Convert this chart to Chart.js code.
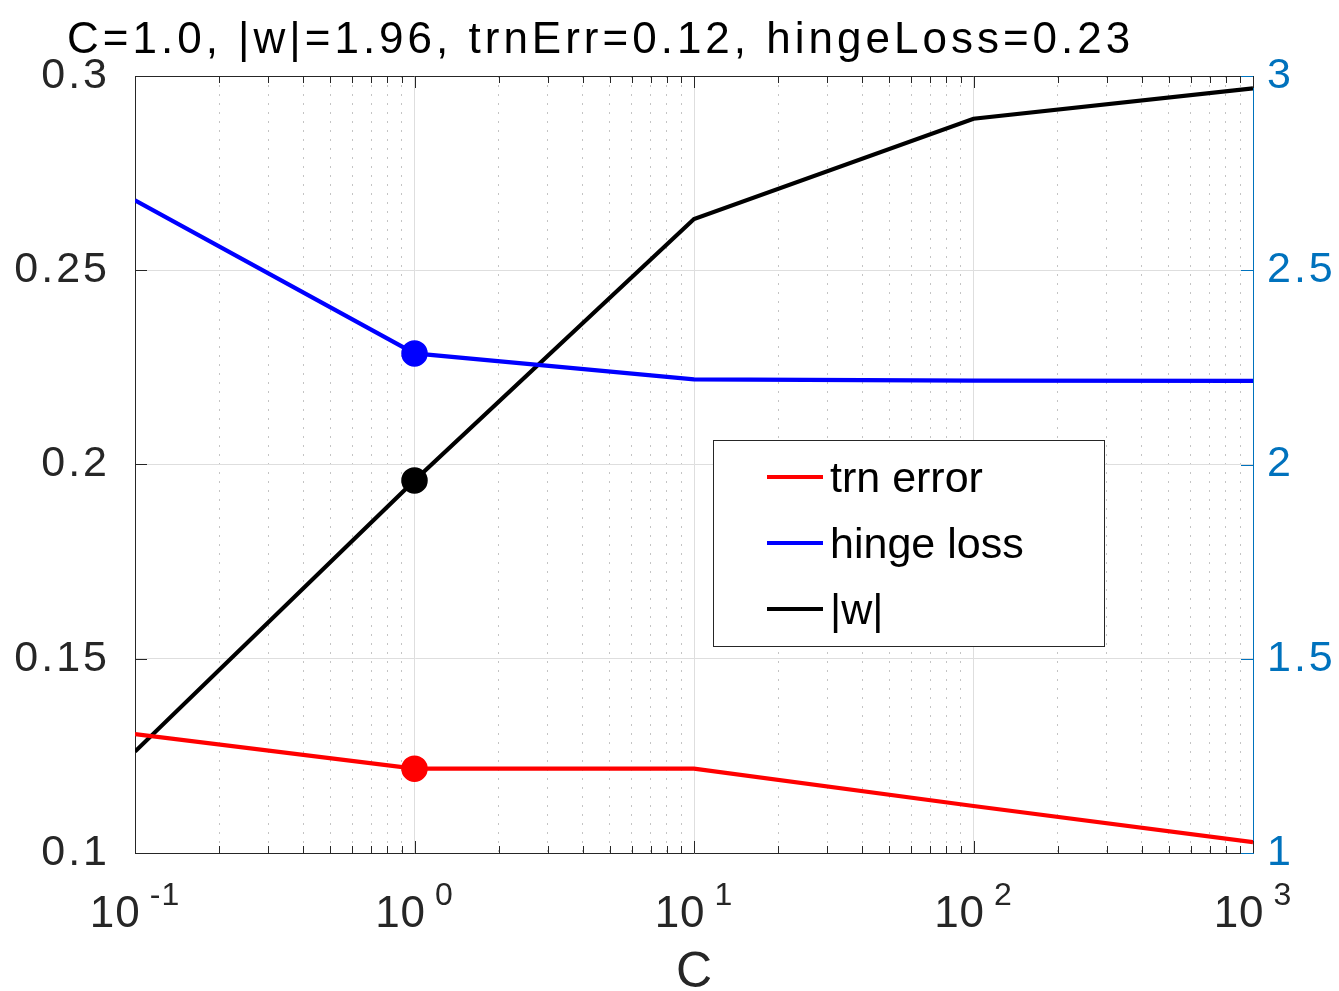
<!DOCTYPE html>
<html>
<head>
<meta charset="utf-8">
<script src="https://cdn.jsdelivr.net/npm/chart.js@4.4.1/dist/chart.umd.min.js"></script>
<style>
  html, body { margin: 0; padding: 0; background: #fff; }
  canvas { display: block; }
</style>
</head>
<body>
<canvas id="svmChart" width="1339" height="991"></canvas>
<script>
// values of C and the three curves read at each of them
var cValues = [0.1, 1, 10, 100, 1000];
var trnError = [0.1306, 0.1217, 0.1217, 0.1121, 0.1028];
var hingeLoss = [0.2680, 0.2286, 0.2219, 0.2216, 0.2215];
var wNorm = [1.261, 1.959, 2.632, 2.890, 2.968];

var selectedC = 1;
var xDecades = [0.1, 1, 10, 100, 1000];
var xExponents = ['-1', '0', '1', '2', '3'];
var leftTicks = [0.1, 0.15, 0.2, 0.25, 0.3];
var rightTicks = [1, 1.5, 2, 2.5, 3];
var titleText = 'C=1.0, |w|=1.96, trnErr=0.12, hingeLoss=0.23';

var FONT = '"Liberation Sans", Arial, Helvetica, sans-serif';
var AXIS_COL = '#262626';
var RIGHT_COL = '#0072BD';
var markIdx = cValues.indexOf(selectedC);

function toPoints(vals) {
    return cValues.map(function(c, i) { return {x: c, y: vals[i]}; });
}

function markerRadius(ctx) {
    return ctx.dataIndex === markIdx ? 12.5 : 0;
}

// the reference text is set a little looser than Liberation Sans
var spacing = {
    id: 'spacing',
    beforeUpdate: function(chart) { chart.ctx.letterSpacing = '3px'; },
    beforeDraw: function(chart) { chart.ctx.letterSpacing = '3px'; }
};

// MATLAB-ish decorations: box edge, inward ticks, superscript labels, title, legend
var matlabDecor = {
    id: 'matlabDecor',
    afterDraw: function(chart) {
        var ctx = chart.ctx, a = chart.chartArea;
        var x = chart.scales.x, y = chart.scales.y, y2 = chart.scales.y2;
        ctx.save();
        ctx.lineWidth = 1;

        // top edge
        ctx.strokeStyle = AXIS_COL;
        ctx.beginPath();
        ctx.moveTo(a.left, a.top + 0.5);
        ctx.lineTo(a.right, a.top + 0.5);
        ctx.stroke();

        // x ticks, bottom and top
        x.ticks.forEach(function(t) {
            var px = Math.round(x.getPixelForValue(t.value)) + 0.5;
            var len = t.major ? 12 : 7;
            ctx.beginPath();
            ctx.moveTo(px, a.bottom);
            ctx.lineTo(px, a.bottom - len);
            ctx.moveTo(px, a.top);
            ctx.lineTo(px, a.top + len);
            ctx.stroke();
        });

        // left y ticks
        y.ticks.forEach(function(t) {
            var py = Math.round(y.getPixelForValue(t.value)) + 0.5;
            ctx.beginPath();
            ctx.moveTo(a.left, py);
            ctx.lineTo(a.left + 12, py);
            ctx.stroke();
        });

        // right y ticks
        ctx.strokeStyle = RIGHT_COL;
        y2.ticks.forEach(function(t) {
            var py = Math.round(y2.getPixelForValue(t.value)) + 0.5;
            ctx.beginPath();
            ctx.moveTo(a.right, py);
            ctx.lineTo(a.right - 12, py);
            ctx.stroke();
        });

        // x tick labels as 10^n
        ctx.letterSpacing = '1px';
        ctx.fillStyle = AXIS_COL;
        ctx.textBaseline = 'alphabetic';
        ctx.textAlign = 'left';
        xDecades.forEach(function(d, i) {
            var px = x.getPixelForValue(d);
            ctx.font = '44px ' + FONT;
            var w1 = ctx.measureText('10').width;
            ctx.font = '32px ' + FONT;
            var w2 = ctx.measureText(xExponents[i]).width;
            var gap = 9;
            var start = px - (w1 + gap + w2) / 2;
            ctx.font = '44px ' + FONT;
            ctx.fillText('10', start, 927);
            ctx.font = '32px ' + FONT;
            ctx.fillText(xExponents[i], start + w1 + gap, 905);
        });

        // axis label
        ctx.letterSpacing = '0px';
        ctx.textAlign = 'center';
        ctx.font = '50px ' + FONT;
        ctx.fillText('C', (a.left + a.right) / 2, 987);

        // title
        ctx.letterSpacing = '4px';
        ctx.textAlign = 'left';
        ctx.fillStyle = '#000';
        ctx.font = '44px ' + FONT;
        ctx.fillText(titleText, 67, 53);

        // legend
        ctx.letterSpacing = '0px';
        var lx = 713, ly = 440, lw = 391, lh = 206;
        ctx.fillStyle = '#fff';
        ctx.fillRect(lx, ly, lw, lh);
        ctx.strokeStyle = AXIS_COL;
        ctx.lineWidth = 1;
        ctx.strokeRect(lx + 0.5, ly + 0.5, lw, lh);
        ctx.textAlign = 'left';
        ctx.font = '43px ' + FONT;
        chart.data.datasets.forEach(function(ds, i) {
            var rowY = 477 + i * 66;
            ctx.strokeStyle = ds.borderColor;
            ctx.lineWidth = 4;
            ctx.beginPath();
            ctx.moveTo(767, rowY);
            ctx.lineTo(823, rowY);
            ctx.stroke();
            ctx.fillStyle = '#000';
            ctx.fillText(ds.label, 830, rowY + 15);
        });

        ctx.restore();
    }
};

new Chart(document.getElementById('svmChart'), {
    type: 'line',
    data: {
        datasets: [
            {
                label: 'trn error',
                data: toPoints(trnError),
                yAxisID: 'y',
                borderColor: '#ff0000',
                pointBackgroundColor: '#ff0000'
            },
            {
                label: 'hinge loss',
                data: toPoints(hingeLoss),
                yAxisID: 'y',
                borderColor: '#0000ff',
                pointBackgroundColor: '#0000ff'
            },
            {
                label: '|w|',
                data: toPoints(wNorm),
                yAxisID: 'y2',
                borderColor: '#000000',
                pointBackgroundColor: '#000000'
            }
        ]
    },
    options: {
        responsive: false,
        animation: false,
        events: [],
        layout: { padding: { top: 76, left: 0, right: 0, bottom: 0 } },
        elements: {
            line: { borderWidth: 4.2, tension: 0, fill: false },
            point: { radius: markerRadius, borderColor: '#000', borderWidth: 1.5 }
        },
        plugins: {
            legend: { display: false },
            title: { display: false },
            tooltip: { enabled: false }
        },
        scales: {
            x: {
                type: 'logarithmic',
                min: 0.1,
                max: 1000,
                afterBuildTicks: function(s) {
                    var t = [];
                    for (var i = 0; i < xDecades.length - 1; i++) {
                        for (var k = 1; k <= 9; k++) {
                            t.push({ value: xDecades[i] * k, major: k === 1 });
                        }
                    }
                    t.push({ value: xDecades[xDecades.length - 1], major: true });
                    s.ticks = t;
                },
                afterFit: function(s) { s.height = 138; },
                ticks: { display: false, autoSkip: false },
                grid: {
                    drawTicks: false,
                    color: function(c) { return c.tick && c.tick.major ? '#dedede' : '#c4c4c4'; },
                    lineWidth: 1
                },
                border: {
                    color: AXIS_COL,
                    width: 1,
                    dash: function(c) { return (c.tick && !c.tick.major) ? [2, 7] : []; }
                }
            },
            y: {
                type: 'linear',
                position: 'left',
                min: 0.1,
                max: 0.3,
                afterBuildTicks: function(s) {
                    s.ticks = leftTicks.map(function(v) { return { value: v }; });
                },
                afterFit: function(s) { s.width = 135; },
                ticks: {
                    padding: 25,
                    color: AXIS_COL,
                    font: { family: FONT, size: 43 },
                    callback: function(v) { return String(v); }
                },
                grid: { drawTicks: false, color: '#dedede', lineWidth: 1 },
                border: { color: AXIS_COL, width: 1 }
            },
            y2: {
                type: 'linear',
                position: 'right',
                min: 1,
                max: 3,
                afterBuildTicks: function(s) {
                    s.ticks = rightTicks.map(function(v) { return { value: v }; });
                },
                afterFit: function(s) { s.width = 86; },
                ticks: {
                    padding: 14,
                    color: RIGHT_COL,
                    font: { family: FONT, size: 43 },
                    callback: function(v) { return String(v); }
                },
                grid: { drawTicks: false, drawOnChartArea: false },
                border: { color: RIGHT_COL, width: 1 }
            }
        }
    },
    plugins: [spacing, matlabDecor]
});
</script>
</body>
</html>
